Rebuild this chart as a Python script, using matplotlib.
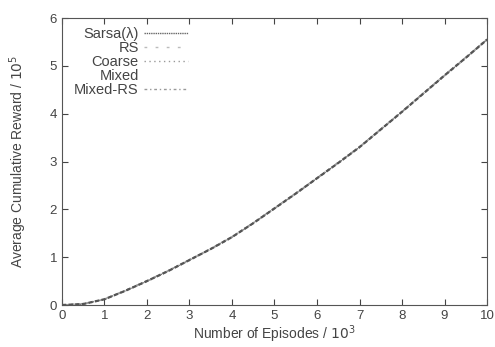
import matplotlib
matplotlib.use("Agg")
import matplotlib.pyplot as plt

plt.rcParams['font.family'] = ['Liberation Sans', 'DejaVu Sans']

episodes = [0, 0.5, 1, 1.5, 2, 2.5, 3, 3.5, 4, 4.5, 5, 5.5, 6, 6.5, 7, 7.5, 8, 8.5, 9, 9.5, 10]
sarsa = [0, 0.02, 0.12, 0.30, 0.50, 0.71, 0.94, 1.17, 1.42, 1.71, 2.02, 2.33, 2.65, 2.97, 3.30, 3.67, 4.04, 4.42, 4.80, 5.17, 5.55]
rs = [0, 0.02, 0.12, 0.31, 0.50, 0.72, 0.94, 1.18, 1.42, 1.72, 2.02, 2.33, 2.66, 2.98, 3.31, 3.68, 4.05, 4.43, 4.81, 5.18, 5.56]
coarse = [0, 0.02, 0.11, 0.30, 0.49, 0.71, 0.93, 1.17, 1.41, 1.71, 2.01, 2.32, 2.65, 2.97, 3.30, 3.67, 4.04, 4.42, 4.79, 5.16, 5.54]
mixed = [0, 0.02, 0.12, 0.30, 0.50, 0.71, 0.94, 1.18, 1.42, 1.71, 2.02, 2.33, 2.65, 2.98, 3.30, 3.67, 4.04, 4.42, 4.80, 5.17, 5.55]
mixed_rs = [0, 0.03, 0.12, 0.31, 0.51, 0.72, 0.95, 1.18, 1.43, 1.72, 2.03, 2.34, 2.66, 2.98, 3.31, 3.68, 4.05, 4.43, 4.81, 5.18, 5.56]

labels = ['Sarsa(λ)', 'RS', 'Coarse', 'Mixed', 'Mixed-RS']
series = [sarsa, rs, coarse, mixed, mixed_rs]
styles = [(0, (1, 0.6)), (0, (2, 6)), (0, (1, 2.5)), (0, (1, 10000)), (0, (2, 2, 1, 2))]
colors = ['#666666', '#bbbbbb', '#999999', '#ffffff', '#999999']

fig = plt.figure(figsize=(4.95, 3.47), dpi=100)
ax = fig.add_axes([0.125, 0.121, 0.859, 0.827])
for y, lab, ls, c in zip(series, labels, styles, colors):
    ax.plot(episodes, y, linestyle=ls, color=c, linewidth=1.0, label=lab)
# darker shared trace so the overlapping curves read as one band
ax.plot(episodes, sarsa, color='#555555', linewidth=1.6, linestyle=(0, (2, 1)))

ax.set_xlim(0, 10)
ax.set_ylim(0, 6)
ax.set_xticks(range(0, 11))
ax.set_yticks(range(0, 7))
ax.tick_params(direction='in', top=True, right=True, labelsize=9.5, colors='#444444', length=4)
for s in ax.spines.values():
    s.set_color('#555555')
    s.set_linewidth(0.8)
ax.set_xlabel('Number of Episodes / $10^3$', fontsize=10, color='#444444', labelpad=1)
ax.set_ylabel('Average Cumulative Reward / $10^5$', fontsize=10, color='#444444', labelpad=15)
leg = ax.legend(loc='upper left', markerfirst=False, frameon=False, fontsize=10.5,
                handlelength=3.0, handletextpad=0.35, labelspacing=0.0, borderaxespad=0.2,
                bbox_to_anchor=(0.008, 1.0))
for t in leg.get_texts():
    t.set_ha('right')
    t.set_color('#444444')
leg._legend_box.align = 'right'

fig.savefig('out.png', dpi=100)
